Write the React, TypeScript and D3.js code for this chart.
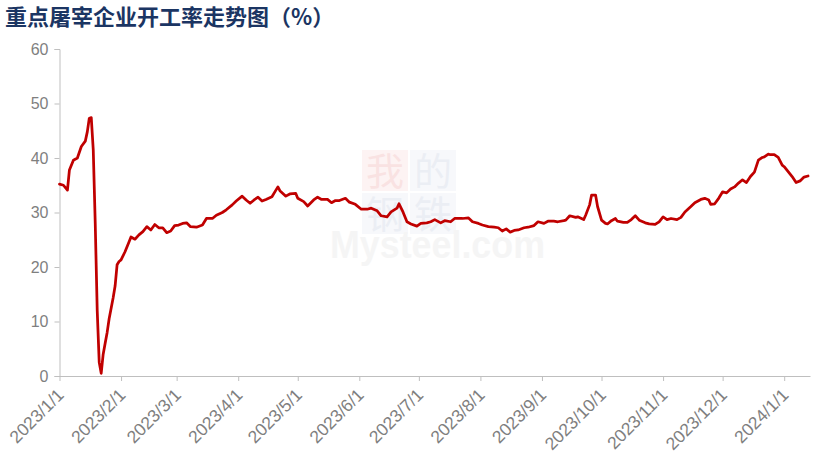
import React, { useEffect, useRef } from "react";
import * as d3 from "d3";

const title = "重点屠宰企业开工率走势图（%）";

const dates: string[] = [
  "2023-01-01","2023-01-03","2023-01-05","2023-01-06","2023-01-08","2023-01-10","2023-01-12","2023-01-14","2023-01-15","2023-01-16",
  "2023-01-17","2023-01-18","2023-01-19","2023-01-20","2023-01-21","2023-01-22","2023-01-23","2023-01-24","2023-01-25","2023-01-26",
  "2023-01-28","2023-01-29","2023-01-30","2023-01-31","2023-02-01","2023-02-03","2023-02-05","2023-02-06","2023-02-08","2023-02-10",
  "2023-02-12","2023-02-14","2023-02-16","2023-02-18","2023-02-20","2023-02-22","2023-02-24","2023-02-26","2023-02-28","2023-03-02",
  "2023-03-04","2023-03-06","2023-03-08","2023-03-11","2023-03-14","2023-03-16","2023-03-19","2023-03-21","2023-03-24","2023-03-26",
  "2023-03-29","2023-03-31","2023-04-03","2023-04-05","2023-04-07","2023-04-09","2023-04-11","2023-04-13","2023-04-15","2023-04-18",
  "2023-04-20","2023-04-21","2023-04-22","2023-04-25","2023-04-27","2023-04-30","2023-05-01","2023-05-04","2023-05-06","2023-05-09",
  "2023-05-11","2023-05-13","2023-05-16","2023-05-18","2023-05-20","2023-05-22","2023-05-25","2023-05-27","2023-05-30","2023-06-02",
  "2023-06-05","2023-06-07","2023-06-10","2023-06-12","2023-06-15","2023-06-17","2023-06-20","2023-06-21","2023-06-23","2023-06-25",
  "2023-06-27","2023-06-30","2023-07-02","2023-07-05","2023-07-07","2023-07-09","2023-07-12","2023-07-14","2023-07-17","2023-07-19",
  "2023-07-23","2023-07-26","2023-07-28","2023-07-31","2023-08-02","2023-08-05","2023-08-08","2023-08-10","2023-08-12","2023-08-14",
  "2023-08-16","2023-08-18","2023-08-20","2023-08-23","2023-08-25","2023-08-28","2023-08-30","2023-09-02","2023-09-04","2023-09-07",
  "2023-09-09","2023-09-12","2023-09-13","2023-09-15","2023-09-18","2023-09-19","2023-09-22","2023-09-23","2023-09-25","2023-09-26",
  "2023-09-28","2023-09-29","2023-10-01","2023-10-03","2023-10-04","2023-10-06","2023-10-08","2023-10-09","2023-10-12","2023-10-14",
  "2023-10-16","2023-10-18","2023-10-20","2023-10-23","2023-10-25","2023-10-28","2023-10-30","2023-11-01","2023-11-03","2023-11-05",
  "2023-11-08","2023-11-10","2023-11-12","2023-11-15","2023-11-17","2023-11-20","2023-11-22","2023-11-24","2023-11-25","2023-11-27",
  "2023-11-29","2023-12-01","2023-12-03","2023-12-05","2023-12-07","2023-12-09","2023-12-11","2023-12-13","2023-12-15","2023-12-17",
  "2023-12-19","2023-12-21","2023-12-22","2023-12-24","2023-12-25","2023-12-27","2023-12-29","2023-12-31","2024-01-01","2024-01-03",
  "2024-01-05","2024-01-07","2024-01-09","2024-01-11","2024-01-13",
];

const values: number[] = [
  35.2,35.0,34.1,37.8,39.6,40.0,42.1,43.1,44.8,47.3,
  47.4,41.5,28.0,12.0,2.5,0.5,4.0,6.0,8.0,10.5,
  14.3,16.5,20.4,21.0,21.3,22.8,24.6,25.5,25.1,25.9,
  26.5,27.4,26.8,27.8,27.2,27.2,26.3,26.6,27.6,27.7,
  28.0,28.1,27.4,27.3,27.7,28.9,28.9,29.5,30.0,30.5,
  31.4,32.1,33.0,32.3,31.7,32.3,32.8,32.1,32.4,32.9,
  34.1,34.7,34.0,33.0,33.4,33.5,32.6,32.0,31.2,32.3,
  32.8,32.4,32.4,31.8,32.2,32.2,32.6,31.9,31.5,30.6,
  30.6,30.8,30.3,29.4,29.2,30.1,30.8,31.6,30.1,28.3,
  27.9,27.5,28.0,28.1,28.3,28.7,28.1,28.5,28.3,28.9,
  28.9,29.0,28.3,28.0,27.7,27.4,27.3,27.2,26.6,27.0,
  26.4,26.7,26.8,27.2,27.3,27.6,28.3,28.0,28.4,28.4,
  28.3,28.5,28.6,29.4,29.1,29.2,28.7,29.5,31.4,33.2,
  33.2,31.1,28.6,28.0,27.9,28.5,28.9,28.4,28.2,28.2,
  28.7,29.4,28.6,28.1,27.9,27.8,28.3,29.2,28.7,28.9,
  28.7,29.1,30.1,31.1,31.8,32.4,32.6,32.3,31.5,31.6,
  32.6,33.8,33.6,34.3,34.7,35.4,36.0,35.5,36.6,37.4,
  39.6,40.1,40.2,40.7,40.6,40.6,40.1,38.7,38.4,37.5,
  36.6,35.5,35.8,36.5,36.7,
];

const xDomain: string[] = ["2023-01-01", "2024-01-14"];
const yTicks: number[] = [0, 10, 20, 30, 40, 50, 60];

const W = 813;
const H = 459;
const M = { left: 59.5, right: 3, top: 49, bottom: 83 };

export default function App() {
  const ref = useRef<SVGSVGElement | null>(null);

  useEffect(() => {
    const svg = d3.select(ref.current);
    svg.selectAll("*").remove();
    const parse = d3.utcParse("%Y-%m-%d");
    const data = dates.map((d, i) => ({ d: parse(d) as Date, v: values[i] }));

    const x = d3
      .scaleUtc()
      .domain(xDomain.map((d) => parse(d) as Date))
      .range([M.left, W - M.right]);
    const y = d3.scaleLinear().domain([0, 60]).range([H - M.bottom, M.top]);

    // watermark
    const wm = svg.append("g").attr("opacity", 0.4);
    const boxes = [
      { t: "我", bx: 362, by: 150, fill: "#fbe3e3", tc: "#f1b9b9" },
      { t: "的", bx: 410, by: 150, fill: "#eceff6", tc: "#cfd6e6" },
      { t: "钢", bx: 362, by: 193, fill: "#eceff6", tc: "#cfd6e6" },
      { t: "铁", bx: 410, by: 193, fill: "#eceff6", tc: "#cfd6e6" },
    ];
    boxes.forEach((b) => {
      wm.append("rect").attr("x", b.bx).attr("y", b.by).attr("width", 46).attr("height", 41).attr("fill", b.fill);
      wm.append("text")
        .attr("x", b.bx + 23)
        .attr("y", b.by + 35)
        .attr("text-anchor", "middle")
        .attr("font-family", "'Noto Sans CJK SC', sans-serif")
        .attr("font-size", 38)
        .attr("fill", b.tc)
        .text(b.t);
    });
    wm.append("text")
      .attr("x", 330)
      .attr("y", 258)
      .attr("font-family", "'Liberation Sans', Arial, sans-serif")
      .attr("font-weight", "bold")
      .attr("font-size", 38)
      .attr("textLength", 215)
      .attr("lengthAdjust", "spacingAndGlyphs")
      .attr("fill", "#e8e8e8")
      .text("Mysteel.com");

    // y axis
    const yAxis = d3.axisLeft(y).tickValues(yTicks).tickSize(5).tickPadding(6);
    const gy = svg.append("g").attr("transform", `translate(${M.left},0)`).call(yAxis);
    gy.select(".domain").attr("stroke", "#bfbfbf");
    gy.selectAll(".tick line").attr("stroke", "#bfbfbf");
    gy.selectAll(".tick text")
      .attr("font-family", "'Liberation Sans', Arial, sans-serif")
      .attr("font-size", 16)
      .attr("fill", "#7f7f7f");

    // x axis
    const xAxis = d3
      .axisBottom(x)
      .ticks(d3.utcMonth.every(1))
      .tickFormat((d) => d3.utcFormat("%Y/%-m/%-d")(d as Date))
      .tickSize(5)
      .tickSizeOuter(0);
    const gx = svg.append("g").attr("transform", `translate(0,${H - M.bottom})`).call(xAxis);
    gx.select(".domain").attr("stroke", "#bfbfbf");
    gx.selectAll(".tick line").attr("stroke", "#bfbfbf");
    gx.selectAll(".tick text")
      .attr("font-family", "'Liberation Sans', Arial, sans-serif")
      .attr("font-size", 17.5)
      .attr("fill", "#7f7f7f")
      .attr("text-anchor", "end")
      .attr("dy", null)
      .attr("y", 0)
      .attr("transform", "translate(5,20) rotate(-45)");

    // line
    const line = d3
      .line<{ d: Date; v: number }>()
      .x((p) => x(p.d))
      .y((p) => y(p.v))
      .curve(d3.curveLinear);
    svg.append("path")
      .datum(data)
      .attr("d", line)
      .attr("fill", "none")
      .attr("stroke", "#c00000")
      .attr("stroke-width", 2.75)
      .attr("stroke-linejoin", "round")
      .attr("stroke-linecap", "round");

    // title
    svg.append("text")
      .attr("x", 5)
      .attr("y", 25)
      .attr("font-family", "'Noto Sans CJK SC', sans-serif")
      .attr("font-weight", "bold")
      .attr("font-size", 22)
      .attr("fill", "#1b3563")
      .text(title);
  }, []);

  return (
    <svg
      ref={ref}
      width={W}
      height={H}
      style={{ position: "absolute", left: 0, top: 0, background: "#fff" }}
    />
  );
}
